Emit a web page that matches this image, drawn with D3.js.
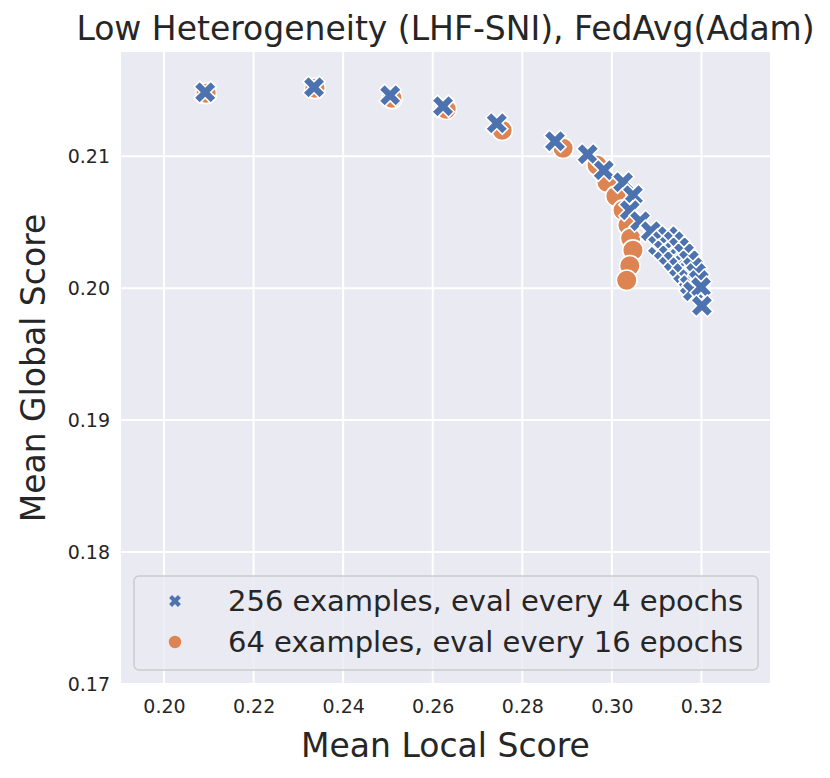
<!DOCTYPE html>
<html lang="en">
<script src="https://d3js.org/d3.v7.min.js"></script>
<style>
  body { margin: 0; background: white; }
  text { font-family: "DejaVu Sans", sans-serif; fill: #262626; }
</style>
<body>
<svg width="830" height="778" id="chart"></svg>
<script>
// 64 examples, eval every 16 epochs (local, global)
var localSmall  = [0.2094, 0.2337, 0.2509, 0.2630, 0.2755, 0.2891, 0.2967, 0.2989, 0.3009, 0.3025,
                   0.3036, 0.3042, 0.3047, 0.3040, 0.3033];
var globalSmall = [0.21477, 0.21515, 0.21439, 0.21356, 0.21197, 0.21061, 0.20932, 0.20803, 0.20697, 0.20591,
                   0.20477, 0.20379, 0.20288, 0.20170, 0.20060];

// 256 examples, eval every 4 epochs
var localBig  = [0.2092, 0.2335, 0.2505, 0.2623, 0.2743, 0.2873, 0.2946, 0.2982, 0.3025, 0.3047,
                 0.3040, 0.3063, 0.3087, 0.3103, 0.3114, 0.3125, 0.3116, 0.3138, 0.3127, 0.3150,
                 0.3138, 0.3161, 0.3150, 0.3172, 0.3159, 0.3181, 0.3172, 0.3188, 0.3174, 0.3194,
                 0.3181, 0.3199, 0.3201];
var globalBig = [0.21485, 0.21523, 0.21462, 0.21379, 0.21250, 0.21114, 0.21015, 0.20894, 0.20803, 0.20705,
                 0.20591, 0.20508, 0.20432, 0.20326, 0.20364, 0.20394, 0.20288, 0.20356, 0.20250, 0.20311,
                 0.20205, 0.20265, 0.20159, 0.20212, 0.20114, 0.20159, 0.20068, 0.20114, 0.20023, 0.20061,
                 0.19977, 0.20008, 0.19866];

var xTicks = [0.20, 0.22, 0.24, 0.26, 0.28, 0.30, 0.32];
var yTicks = [0.17, 0.18, 0.19, 0.20, 0.21];
var seriesNames = ["256 examples, eval every 4 epochs", "64 examples, eval every 16 epochs"];
var colors = ["#4C72B0", "#DD8452"];

var svg = d3.select("#chart");
var pLeft = 121, pRight = 770, pTop = 52, pBottom = 684;

var x = d3.scaleLinear().domain([0.1904, 0.3353]).range([pLeft, pRight]);
var y = d3.scaleLinear().domain([0.1700, 0.2179]).range([pBottom, pTop]);

svg.append("rect")
  .attr("x", pLeft).attr("y", pTop)
  .attr("width", pRight - pLeft).attr("height", pBottom - pTop)
  .attr("fill", "#EAEAF2");

// grid
svg.append("g").selectAll("line").data(xTicks).enter().append("line")
  .attr("x1", d => x(d)).attr("x2", d => x(d))
  .attr("y1", pTop).attr("y2", pBottom)
  .attr("stroke", "white").attr("stroke-width", 2);
svg.append("g").selectAll("line").data(yTicks).enter().append("line")
  .attr("y1", d => y(d)).attr("y2", d => y(d))
  .attr("x1", pLeft).attr("x2", pRight)
  .attr("stroke", "white").attr("stroke-width", 2);

// axes (ticks hidden, labels only)
var xAxis = svg.append("g")
  .attr("transform", "translate(0," + pBottom + ")")
  .call(d3.axisBottom(x).tickValues(xTicks).tickFormat(d3.format(".2f")).tickSize(0).tickPadding(16));
var yAxis = svg.append("g")
  .attr("transform", "translate(" + pLeft + ",0)")
  .call(d3.axisLeft(y).tickValues(yTicks).tickFormat(d3.format(".2f")).tickSize(0).tickPadding(11));
[xAxis, yAxis].forEach(function(a) {
  a.select(".domain").remove();
  a.selectAll("text").style("font-size", "19px").style("font-family", "DejaVu Sans").attr("fill", "#262626");
});

// filled X marker (matplotlib "X")
function xPath(s) {
  var pts = [[-1,-3],[-1,-1],[-3,-1],[-3,1],[-1,1],[-1,3],[1,3],[1,1],[3,1],[3,-1],[1,-1],[1,-3]];
  var c = Math.SQRT1_2;
  return "M" + pts.map(function(p) {
    var px = p[0] / 6 * s, py = p[1] / 6 * s;
    return [(px - py) * c, (px + py) * c].join(",");
  }).join("L") + "Z";
}

var smallPts = localSmall.map((v, i) => [v, globalSmall[i]]);
var bigPts = localBig.map((v, i) => [v, globalBig[i]]);

svg.append("g").selectAll("circle").data(smallPts).enter().append("circle")
  .attr("cx", d => x(d[0])).attr("cy", d => y(d[1]))
  .attr("r", 10.3)
  .attr("fill", colors[1]).attr("stroke", "white").attr("stroke-width", 1.6);

svg.append("g").selectAll("path").data(bigPts).enter().append("path")
  .attr("d", xPath(23.5))
  .attr("transform", d => "translate(" + x(d[0]) + "," + y(d[1]) + ")")
  .attr("fill", colors[0]).attr("stroke", "white").attr("stroke-width", 1.6);

// legend
var lg = svg.append("g");
lg.append("rect")
  .attr("x", 134).attr("y", 576).attr("width", 624).attr("height", 94)
  .attr("rx", 5)
  .attr("fill", "#EAEAF2").attr("fill-opacity", 0.8)
  .attr("stroke", "#CCCCCC").attr("stroke-width", 1.5);
lg.append("path").attr("d", xPath(12.5))
  .attr("transform", "translate(175,601)").attr("fill", colors[0]);
lg.append("circle").attr("cx", 175).attr("cy", 642).attr("r", 6.2).attr("fill", colors[1]);
lg.selectAll("text.leg").data(seriesNames).enter().append("text")
  .attr("class", "leg")
  .attr("x", 228).attr("y", (d, i) => 611 + i * 41)
  .style("font-size", "29px")
  .text(d => d);

// title and labels
svg.append("text")
  .attr("x", (pLeft + pRight) / 2).attr("y", 40)
  .attr("text-anchor", "middle").style("font-size", "33px")
  .text("Low Heterogeneity (LHF-SNI), FedAvg(Adam)");
svg.append("text")
  .attr("x", (pLeft + pRight) / 2).attr("y", 757)
  .attr("text-anchor", "middle").style("font-size", "33px")
  .text("Mean Local Score");
svg.append("text")
  .attr("transform", "translate(45," + ((pTop + pBottom) / 2) + ") rotate(-90)")
  .attr("text-anchor", "middle").style("font-size", "33px")
  .text("Mean Global Score");
</script>
</body>
</html>
